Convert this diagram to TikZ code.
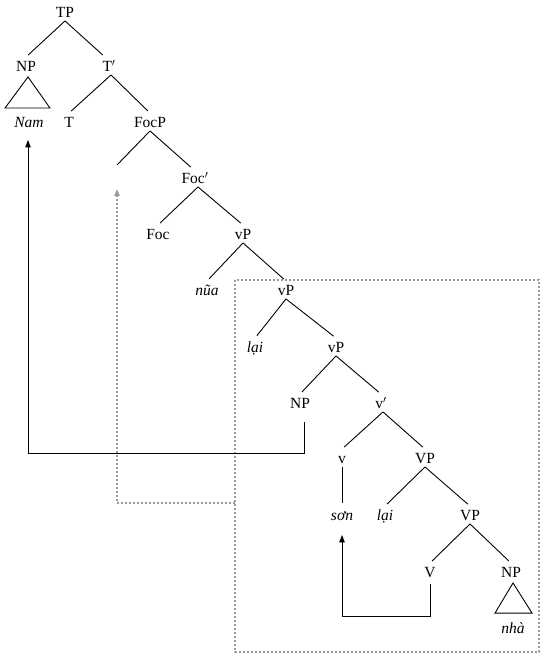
\documentclass[tikz,border=0pt]{standalone}
\usepackage{fontspec}
\setmainfont{Liberation Serif}
\usetikzlibrary{arrows.meta}
\definecolor{tracegray}{HTML}{999999}
\tikzset{
  lbl/.style={font=\fontsize{15.5}{18}\selectfont, inner xsep=1pt, inner ysep=3.5pt,
              text height=10.5pt, text depth=0pt},
  br/.style={line width=0.9pt, shorten >=3pt},
  mv/.style={line width=0.9pt, -{Triangle[length=2.6mm,width=1.9mm]}},
  mvdot/.style={line width=2pt, tracegray, dash pattern=on 2pt off 2pt,
                -{Triangle[length=2.4mm,width=1.8mm]}},
  dotbox/.style={line width=2pt, tracegray, dash pattern=on 2pt off 2pt},
}

\begin{document}
\begin{tikzpicture}[x=1pt,y=-1pt]
  \useasboundingbox (0,0) rectangle (546,660);
  % TP layer
  \node[lbl] (tp) at (65,12) {TP};
  \node[lbl] (np1) at (26,66) {NP};
  \node[lbl] (tbar) at (109,66) {T$'$};
  \node[lbl] (nam) at (29,122) {\itshape Nam};
  \node[lbl] (t) at (69,122) {T};
  \node[lbl] (focp) at (150,122) {FocP};
  % focus layer
  \coordinate (fspec) at (117,165);
  \node[lbl] (focbar) at (195,178) {Foc$'$};
  \node[lbl] (foc) at (158,234) {Foc};
  \node[lbl] (vp1) at (243,234) {vP};
  \node[lbl] (nua) at (207,290) {\itshape nũa};
  \node[lbl] (vp2) at (286,290) {vP};
  \node[lbl] (lai1) at (255,347) {\itshape lại};
  \node[lbl] (vp3) at (336,347) {vP};
  % vP shell
  \node[lbl] (np2) at (300,403) {NP};
  \node[lbl] (vbar) at (381,403) {v$'$};
  \node[lbl] (v) at (342,458) {v};
  \node[lbl] (vpa) at (425,458) {VP};
  \node[lbl] (son) at (342,515) {\itshape sơn};
  \node[lbl] (lai2) at (385,515) {\itshape lại};
  \node[lbl] (vpb) at (470,515) {VP};
  \node[lbl] (vhead) at (430,572) {V};
  \node[lbl] (np3) at (511,572) {NP};
  \node[lbl] (nha) at (513,628) {\itshape nhà};
  % branches
  \draw[br] (tp.south) -- (np1.north);
  \draw[br] (tp.south) -- ([xshift=-4pt]tbar.north);
  \draw[br] ([xshift=2pt]tbar.south) -- (t.north);
  \draw[br] ([xshift=2pt]tbar.south) -- (focp.north);
  \draw[line width=0.9pt] (focp.south) -- (fspec);
  \draw[br] (focp.south) -- ([xshift=-2pt]focbar.north);
  \draw[br] ([xshift=3pt]focbar.south) -- (foc.north);
  \draw[br] ([xshift=3pt]focbar.south) -- (vp1.north);
  \draw[br] (vp1.south) -- (nua.north);
  \draw[br] (vp1.south) -- (vp2.north);
  \draw[br] (vp2.south) -- (lai1.north);
  \draw[br] (vp2.south) -- (vp3.north);
  \draw[br] (vp3.south) -- (np2.north);
  \draw[br] (vp3.south) -- (vbar.north);
  \draw[br] ([xshift=2pt]vbar.south) -- (v.north);
  \draw[br] ([xshift=2pt]vbar.south) -- (vpa.north);
  \draw[br] (v.south) -- (son.north);
  \draw[br] (vpa.south) -- (lai2.north);
  \draw[br] (vpa.south) -- (vpb.north);
  \draw[br] (vpb.south) -- (vhead.north);
  \draw[br] (vpb.south) -- (np3.north);
  % triangles
  \draw[line width=0.9pt] ([xshift=2pt,yshift=-2pt]np1.south) -- ([xshift=-24pt,yshift=5pt]nam.north)
    -- ([xshift=21pt,yshift=5pt]nam.north) -- cycle;
  \draw[line width=0.9pt] ([xshift=2pt,yshift=-2pt]np3.south) -- ([xshift=-18pt,yshift=6pt]nha.north)
    -- ([xshift=19pt,yshift=6pt]nha.north) -- cycle;
  % movement
  \coordinate (boxnw) at (235,280);
  \coordinate (boxse) at (539,652);
  \coordinate (dfoot) at (235,503);
  \draw[dotbox] (boxnw) rectangle (boxse);
  \draw[mvdot] (dfoot) -| ([yshift=-24pt]fspec);
  \draw[mv] ([xshift=4pt,yshift=-10pt]np2.south) -- ++(0,31) -| ([xshift=-1pt,yshift=-9pt]nam.south);
  \draw[mv] ([yshift=-3pt]vhead.south) -- ++(0,32) -| ([yshift=-11pt]son.south);
\end{tikzpicture}
\end{document}
